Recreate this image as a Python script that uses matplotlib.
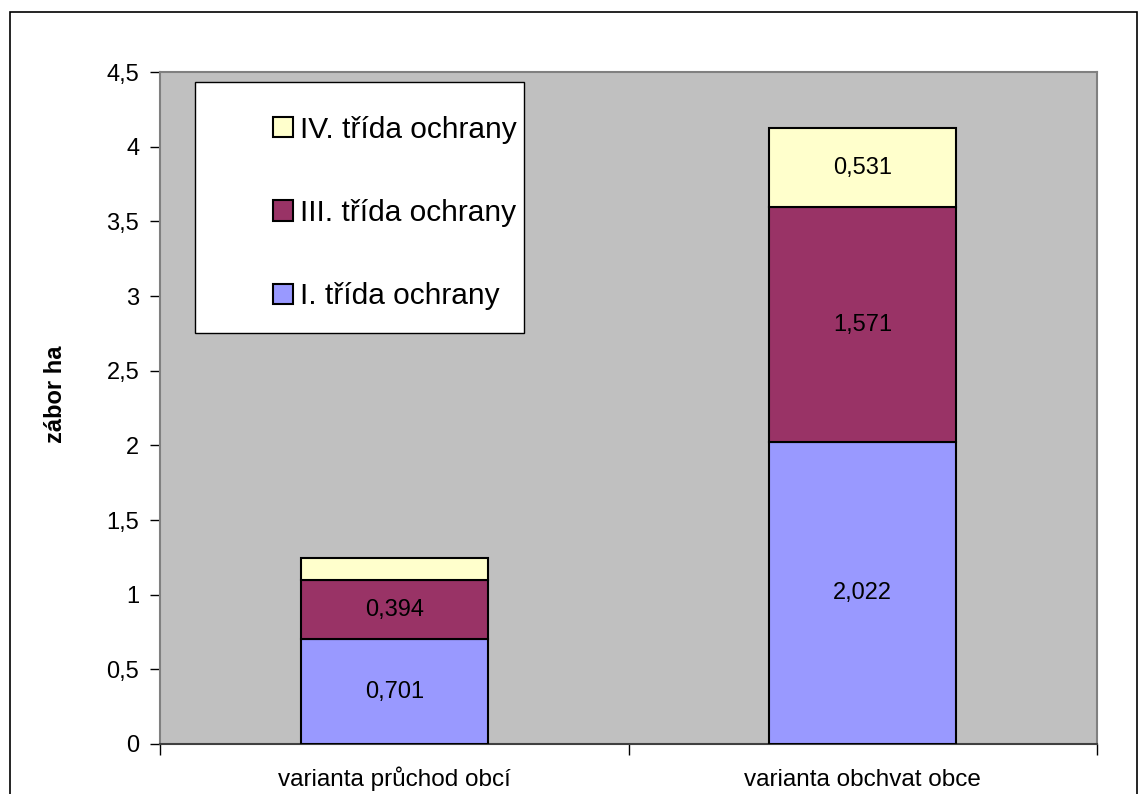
import matplotlib.pyplot as plt
import matplotlib.patches as mpatches
from matplotlib.ticker import FuncFormatter, MultipleLocator

# data
categories = ['varianta průchod obcí', 'varianta obchvat obce']
series_names = ['I. třída ochrany', 'III. třída ochrany', 'IV. třída ochrany']
trida_1 = [0.701, 2.022]
trida_3 = [0.394, 1.571]
trida_4 = [0.150, 0.531]
# the small top segment of the first bar has no label in the original
labels_1 = ['0,701', '2,022']
labels_3 = ['0,394', '1,571']
labels_4 = ['', '0,531']

colors = ['#9999FF', '#993366', '#FFFFCC']

plt.rcParams['font.family'] = ['Liberation Sans', 'DejaVu Sans']
FS = 17

fig = plt.figure(figsize=(11.47, 7.94), dpi=100)
ax = fig.add_axes([160 / 1147, 50 / 794, 937 / 1147, 672 / 794])
ax.set_facecolor('#C0C0C0')

# outer chart border
fig.patches.append(mpatches.Rectangle((10 / 1147, -0.02), 1127 / 1147, 1.02 - 12 / 794,
                                      transform=fig.transFigure, fill=False,
                                      edgecolor='black', lw=1.2))

x = list(range(len(categories)))
bottom = [0.0] * len(categories)
containers = []
for vals, col, name in zip([trida_1, trida_3, trida_4], colors, series_names):
    c = ax.bar(x, vals, width=0.4, bottom=bottom, color=col, edgecolor='black',
               linewidth=1.5, label=name, zorder=3)
    containers.append(c)
    bottom = [b + v for b, v in zip(bottom, vals)]

for c, labs in zip(containers, [labels_1, labels_3, labels_4]):
    ax.bar_label(c, labels=labs, label_type='center', fontsize=FS, zorder=4)

ax.set_xlim(-0.5, 1.5)
ax.set_ylim(0, 4.5)
ax.yaxis.set_major_locator(MultipleLocator(0.5))
ax.yaxis.set_major_formatter(FuncFormatter(lambda v, p: f'{v:g}'.replace('.', ',')))
ax.tick_params(axis='y', direction='out', length=7, width=1, labelsize=FS, pad=8,
               color='black')

ax.set_xticks(x)
ax.set_xticklabels(categories, fontsize=17.5, va='baseline')
ax.set_xticks([-0.5, 0.5, 1.5], minor=True)
ax.tick_params(axis='x', which='major', length=0, pad=30)
ax.tick_params(axis='x', which='minor', direction='out', length=8, width=1)

for s in ax.spines.values():
    s.set_color('#808080')
    s.set_linewidth(1.5)
ax.spines['bottom'].set_color('#404040')

ax.set_ylabel('zábor ha', fontsize=FS, fontweight='bold')
ax.yaxis.set_label_coords(-0.099, 0.521)

# legend box drawn by hand, entries placed inside without frame
ax.add_patch(mpatches.Rectangle((35 / 937, (744 - 333) / 672), 329 / 937, 251 / 672,
                                transform=ax.transAxes, facecolor='white',
                                edgecolor='black', lw=1, zorder=5))
handles, lbls = ax.get_legend_handles_labels()
leg = ax.legend(handles[::-1], lbls[::-1], loc='center left',
                bbox_to_anchor=(113 / 937, (744 - 213) / 672), frameon=False,
                fontsize=21.5, labelspacing=1.85, handlelength=0.67, handleheight=0.67,
                handletextpad=0.25, borderpad=0, borderaxespad=0)
leg.set_zorder(6)

fig.savefig('out.png', dpi=100)
